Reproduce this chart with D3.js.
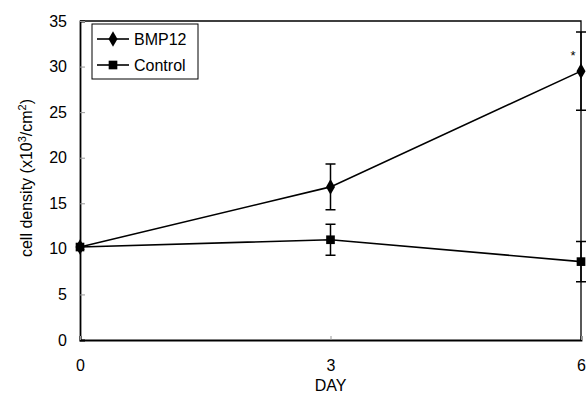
<!DOCTYPE html>
<html>
<head>
<meta charset="utf-8">
<script src="https://cdn.jsdelivr.net/npm/d3@7"></script>
<style>
  body { margin: 0; background: #fff; }
  text { font-family: "Liberation Sans", Arial, sans-serif; fill: #000; }
</style>
</head>
<body>
<svg width="587" height="396"></svg>
<script>
// data
var days = [0, 3, 6];
var bmp12 = [10.2, 16.8, 29.5];
var bmp12Err = [0, 2.5, 4.3];
var control = [10.2, 11.0, 8.6];
var controlErr = [0, 1.7, 2.2];
var yTicks = [0, 5, 10, 15, 20, 25, 30, 35];

const svg = d3.select("svg");
const m = {left: 80, right: 6, top: 21, bottom: 56};
const W = 587, H = 396;

var x = d3.scaleLinear().domain([0, 6]).range([m.left, W - m.right]);
var y = d3.scaleLinear().domain([0, 35]).range([H - m.bottom, m.top]);

// frame (top + right)
svg.append("path")
    .attr("d", `M${x(0)},${y(35)} L${x(6)},${y(35)} L${x(6)},${y(0)}`)
    .attr("fill", "none").attr("stroke", "#000").attr("stroke-width", 1.3);

// y axis
var ya = svg.append("g")
    .attr("transform", `translate(${x(0)},0)`)
    .call(d3.axisLeft(y).tickValues(yTicks).tickSize(-5).tickPadding(13));
ya.select(".domain").attr("stroke-width", 1.8);
ya.selectAll(".tick line").attr("stroke", "#999");
ya.selectAll(".tick text").attr("font-size", 16).attr("font-family", "Liberation Sans, Arial, sans-serif");

// x axis
var xa = svg.append("g")
    .attr("transform", `translate(0,${y(0)})`)
    .call(d3.axisBottom(x).tickValues(days).tickFormat(d3.format("d")).tickSize(-4).tickPadding(20));
xa.select(".domain").attr("stroke-width", 1.8);
xa.selectAll(".tick line").attr("stroke", "#999");
xa.selectAll(".tick text").attr("font-size", 16).attr("font-family", "Liberation Sans, Arial, sans-serif");

svg.append("text")
    .attr("x", x(3)).attr("y", 391)
    .attr("text-anchor", "middle").attr("font-size", 16)
    .text("DAY");

svg.append("text")
    .attr("transform", `translate(32,178) rotate(-90)`)
    .attr("text-anchor", "middle").attr("font-size", 16)
    .html('cell density (x10<tspan dy="-6" font-size="11">3</tspan><tspan dy="6">/cm</tspan><tspan dy="-6" font-size="11">2</tspan><tspan dy="6">)</tspan>');

var series = [
    {name: "BMP12", vals: bmp12, err: bmp12Err, shape: d3.symbolDiamond, size: 70},
    {name: "Control", vals: control, err: controlErr, shape: d3.symbolSquare, size: 75}
];

var line = d3.line().x((d, i) => x(days[i])).y(d => y(d));
var capW = 5;

series.forEach(function(s) {
    var g = svg.append("g");
    // error bars
    s.err.forEach(function(e, i) {
        if (!e) return;
        var cx = x(days[i]);
        var y1 = y(s.vals[i] + e), y2 = y(s.vals[i] - e);
        g.append("path")
            .attr("d", `M${cx},${y1} L${cx},${y2} M${cx - capW},${y1} L${cx + capW},${y1} M${cx - capW},${y2} L${cx + capW},${y2}`)
            .attr("stroke", "#000").attr("stroke-width", 1.5).attr("fill", "none");
    });
    g.append("path")
        .attr("d", line(s.vals))
        .attr("fill", "none").attr("stroke", "#000").attr("stroke-width", 1.6);
    g.selectAll("path.mk")
        .data(s.vals).enter().append("path")
        .attr("class", "mk")
        .attr("transform", (d, i) => `translate(${x(days[i])},${y(d)})`)
        .attr("d", d3.symbol().type(s.shape).size(s.size));
});

// significance mark
svg.append("text")
    .attr("x", x(6) - 8).attr("y", y(bmp12[2]) - 11)
    .attr("text-anchor", "middle").attr("font-size", 13)
    .text("*");

// legend
var lg = svg.append("g").attr("transform", "translate(92,24)");
lg.append("rect").attr("width", 106).attr("height", 55)
    .attr("fill", "#fff").attr("stroke", "#000").attr("stroke-width", 1);
series.forEach(function(s, i) {
    var ly = 15 + i * 26;
    lg.append("line").attr("x1", 5).attr("x2", 37).attr("y1", ly).attr("y2", ly)
        .attr("stroke", "#000").attr("stroke-width", 1.6);
    lg.append("path").attr("transform", `translate(21,${ly})`)
        .attr("d", d3.symbol().type(s.shape).size(s.size));
    lg.append("text").attr("x", 42).attr("y", ly + 6)
        .attr("font-size", 16).text(s.name);
});
</script>
</body>
</html>
